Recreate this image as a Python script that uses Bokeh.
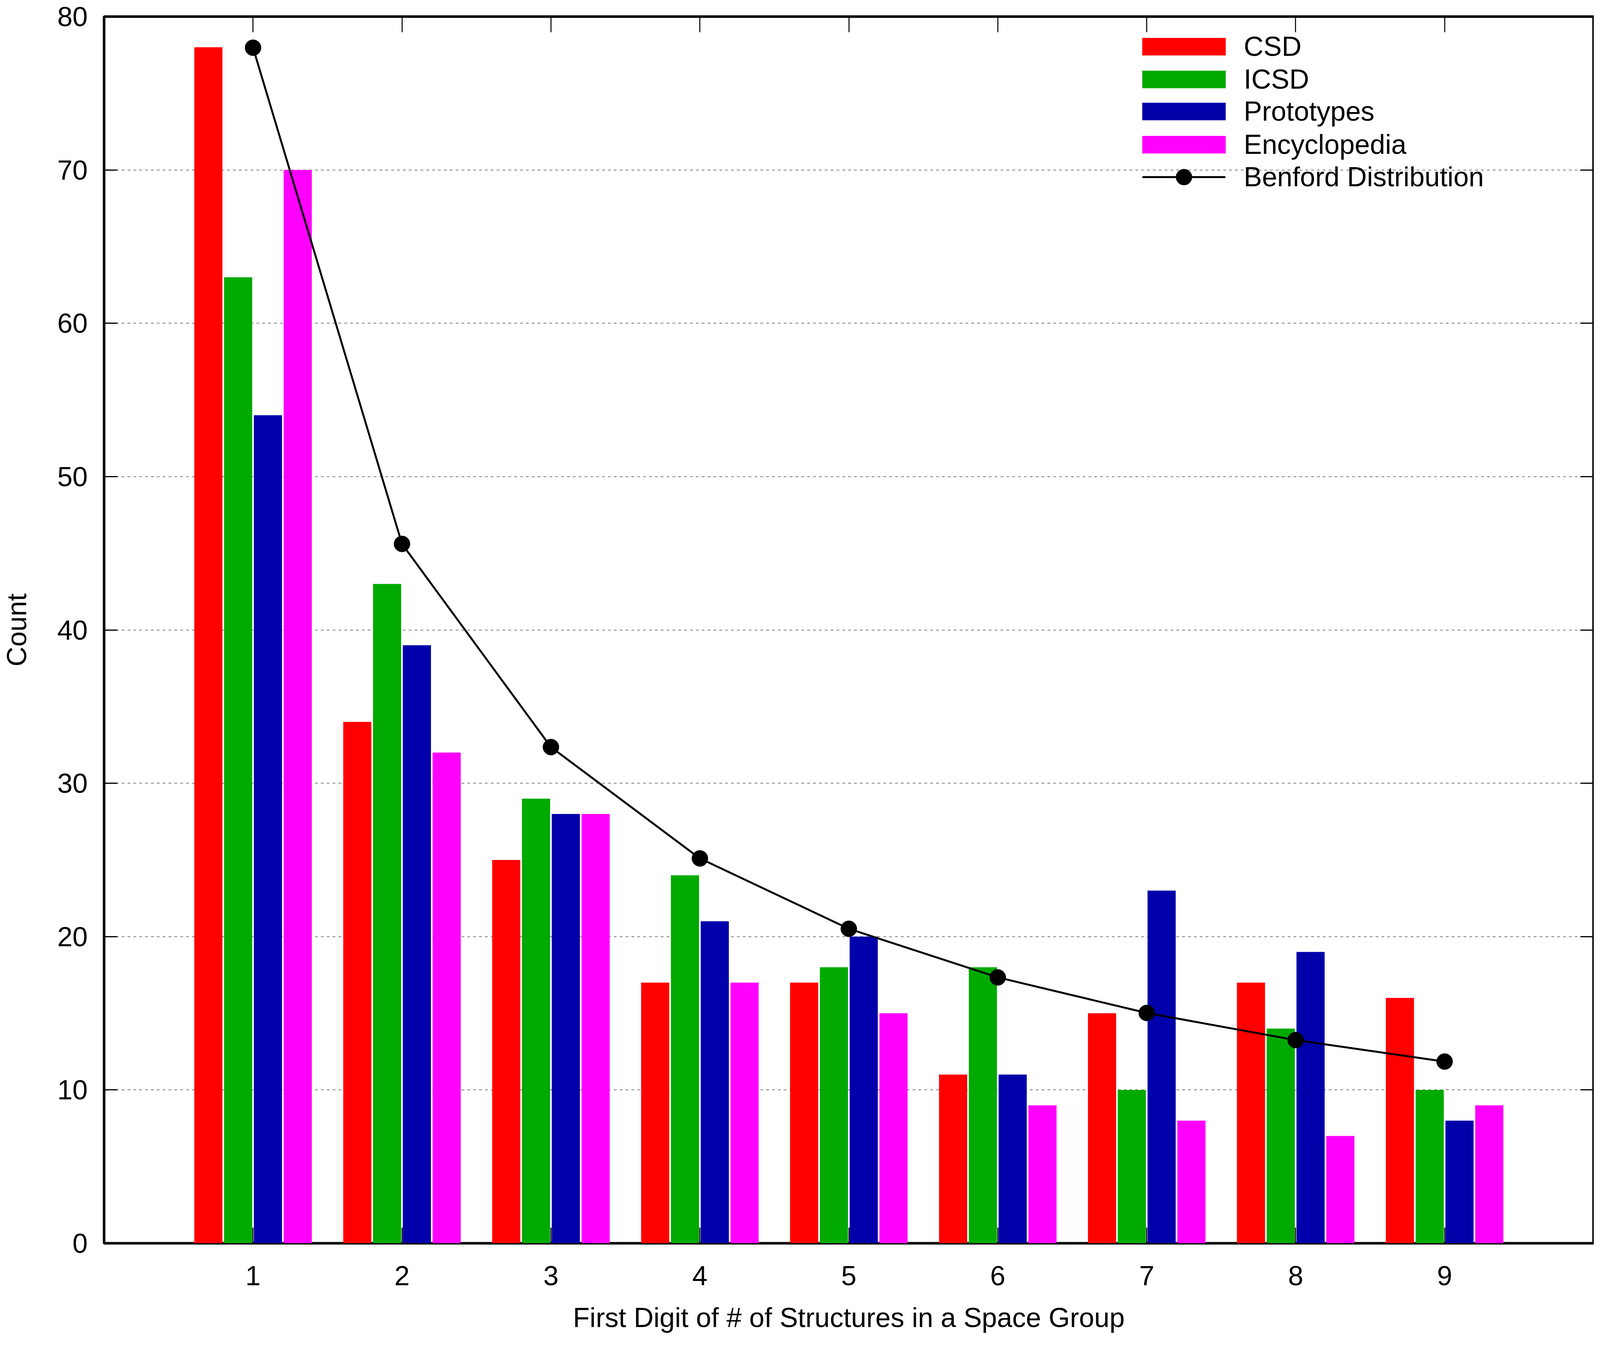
from bokeh.plotting import figure
from bokeh.models import (LinearAxis, FixedTicker, Legend, LegendItem, Range1d,
                          ColumnDataSource)
from bokeh.transform import dodge
from bokeh.embed import file_html
from bokeh.resources import INLINE

# ---- data ----
digits = [1, 2, 3, 4, 5, 6, 7, 8, 9]
csd = [78, 34, 25, 17, 17, 11, 15, 17, 16]
icsd = [63, 43, 29, 24, 18, 18, 10, 14, 10]
prototypes = [54, 39, 28, 21, 20, 11, 23, 19, 8]
encyclopedia = [70, 32, 28, 17, 15, 9, 8, 7, 9]
benford = [77.97, 45.61, 32.36, 25.10, 20.51, 17.34, 15.02, 13.25, 11.85]
y_ticks = [0, 10, 20, 30, 40, 50, 60, 70, 80]

series_names = ["CSD", "ICSD", "Prototypes", "Encyclopedia"]
series_cols = ["csd", "icsd", "prototypes", "encyclopedia"]
series_colors = ["#ff0000", "#00aa00", "#0000aa", "#ff00ff"]
series_offsets = [-0.3, -0.1, 0.1, 0.3]

FONT = "Liberation Sans"
FS = "70px"

src = ColumnDataSource(dict(digit=digits, csd=csd, icsd=icsd,
                            prototypes=prototypes, encyclopedia=encyclopedia,
                            benford=benford))

p = figure(width=4080, height=3428, x_range=Range1d(0, 10), y_range=Range1d(0, 80),
           output_backend="svg", toolbar_location=None,
           min_border_left=266, min_border_right=1, min_border_top=42,
           min_border_bottom=245)

p.background_fill_color = "white"
p.border_fill_color = "white"
p.outline_line_color = "black"
p.outline_line_width = 6.5

# grid
p.xgrid.grid_line_color = None
p.ygrid.ticker = FixedTicker(ticks=y_ticks)
p.ygrid.grid_line_color = "#777777"
p.ygrid.grid_line_width = 2
p.ygrid.grid_line_dash = "7 8"

# axes
p.xaxis.ticker = FixedTicker(ticks=digits)
p.yaxis.ticker = FixedTicker(ticks=y_ticks)
p.xaxis.axis_label = "First Digit of # of Structures in a Space Group"
p.yaxis.axis_label = "Count"
for ax in [p.xaxis[0], p.yaxis[0]]:
    ax.axis_line_color = None
    ax.major_tick_out = 0
    ax.minor_tick_line_color = None
    ax.major_label_text_font = FONT
    ax.major_label_text_font_size = FS
    ax.major_label_text_color = "black"
    ax.axis_label_text_font = FONT
    ax.axis_label_text_font_size = FS
    ax.axis_label_text_font_style = "normal"
    ax.axis_label_text_color = "black"
p.xaxis.major_tick_in = 40
p.xaxis.major_tick_line_width = 2.6
p.yaxis.major_tick_in = 34
p.yaxis.major_tick_line_width = 3
p.xaxis.major_label_standoff = 58
p.xaxis.axis_label_standoff = 41
p.yaxis.major_label_standoff = 42
p.yaxis.axis_label_standoff = 62

# mirror ticks on top and right
top_ax = LinearAxis(ticker=FixedTicker(ticks=digits), fixed_location=80,
                    major_tick_in=40, major_tick_line_width=2.6)
right_ax = LinearAxis(ticker=FixedTicker(ticks=y_ticks), fixed_location=10,
                      major_tick_in=34, major_tick_line_width=3)
for ax in [top_ax, right_ax]:
    ax.axis_line_color = None
    ax.major_tick_out = 0
    ax.minor_tick_line_color = None
    ax.major_label_text_color = None
p.add_layout(top_ax, "above")
p.add_layout(right_ax, "right")

# bars
bar_renderers = []
for col, color, off in zip(series_cols, series_colors, series_offsets):
    r = p.vbar(x=dodge("digit", off, range=p.x_range), top=col, bottom=0, width=0.189,
               source=src, fill_color=color, line_color=None)
    bar_renderers.append(r)

# Benford line
rl = p.line(x="digit", y="benford", source=src, line_color="black", line_width=5)
rs = p.scatter(x="digit", y="benford", source=src, size=41, marker="circle",
               fill_color="black", line_color="black")

common = dict(padding=0, margin=0, spacing=0, border_line_color=None,
              background_fill_alpha=0, label_text_font=FONT, label_text_font_size=FS,
              label_text_color="black", label_height=84)

# one single-row legend per entry so that each row sits where the reference has it
row_bottoms = [3022, 2938, 2856, 2771]
for n, r, yb in zip(series_names, bar_renderers, row_bottoms):
    lg = Legend(items=[LegendItem(label=n, renderers=[r])], location=(2631, yb),
                glyph_width=267, glyph_height=56, label_standoff=20, **common)
    p.add_layout(lg)

legend_ben = Legend(
    items=[LegendItem(label="Benford Distribution", renderers=[rl, rs])],
    location=(2658, 2679), glyph_width=213, glyph_height=102, label_standoff=47,
    **common)
p.add_layout(legend_ben)

open("out.html", "w").write(file_html(p, INLINE))
